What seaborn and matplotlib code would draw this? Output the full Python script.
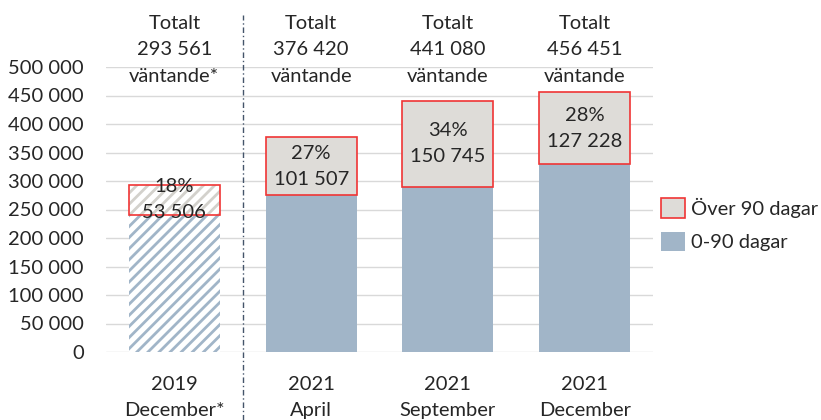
import matplotlib
matplotlib.use("Agg")
import matplotlib.pyplot as plt
import matplotlib.transforms as mtransforms
from matplotlib.patches import Patch, Rectangle
import seaborn as sns

categories = ["2019\nDecember*", "2021\nApril", "2021\nSeptember", "2021\nDecember"]
totals = [293561, 376420, 441080, 456451]
over_90 = [53506, 101507, 150745, 127228]
under_90 = [t - o for t, o in zip(totals, over_90)]
pct_labels = ["18%", "27%", "34%", "28%"]
total_notes = ["väntande*", "väntande", "väntande", "väntande"]

blue = "#A1B5C8"
grey = "#DEDCD8"
hatch_grey = "#D3D1CC"
red = "#F03535"
FS = 14.5
LS = 1.65

sns.set_theme(style="white")
plt.rcParams["font.family"] = ["Lato", "DejaVu Sans"]
plt.rcParams["hatch.linewidth"] = 2.0

def fmt(v):
    return f"{v:,}".replace(",", " ")

fig = plt.figure(figsize=(8.21, 4.2), dpi=100)
ax = fig.add_axes([106 / 821, 1 - 352 / 420, 547 / 821, 285 / 420])

######## bottom part: 0-90 dagar ########
sns.barplot(x=categories, y=under_90, color=blue, width=0.667,
            linewidth=0, saturation=1, ax=ax)
first = ax.patches[0]
first.set_facecolor("white")
first.set_edgecolor(blue)
first.set_hatch("///")

######## top part: over 90 dagar ########
xs = list(range(len(categories)))
ax.bar(xs[1:], over_90[1:], bottom=under_90[1:], width=0.667,
       color=grey, edgecolor=red, linewidth=1.2)
ax.bar(xs[0], over_90[0], bottom=under_90[0], width=0.667,
       facecolor="white", edgecolor=hatch_grey, hatch="///", linewidth=0)
ax.add_patch(Rectangle((xs[0] - 0.3335, under_90[0]), 0.667, over_90[0],
                       fill=False, edgecolor=red, linewidth=1.2))

for i in xs:
    ax.text(i, under_90[i] + over_90[i] / 2, pct_labels[i] + "\n" + fmt(over_90[i]),
            ha="center", va="center", fontsize=FS, linespacing=LS)

trans = mtransforms.blended_transform_factory(ax.transData, ax.transAxes)
for i in xs:
    ax.text(i, 1.06, "Totalt\n" + fmt(totals[i]) + "\n" + total_notes[i],
            transform=trans, ha="center", va="center", fontsize=FS,
            linespacing=LS, clip_on=False)

# separator between 2019 and 2021
ax.plot([0.5, 0.5], [-0.24, 1.182], transform=trans, color="#44546A",
        linestyle=(0, (4, 2, 1, 2)), linewidth=1, clip_on=False)

ax.set_xlim(-0.5, 3.5)
ax.set_ylim(0, 500000)
yt = list(range(0, 500001, 50000))
ax.set_yticks(yt)
ax.set_yticklabels([fmt(v) for v in yt])
ax.yaxis.grid(True, color="#D9D9D9", linewidth=1)
ax.set_axisbelow(True)
for s in ax.spines.values():
    s.set_visible(False)
ax.tick_params(axis="y", length=0, pad=16, labelsize=FS)
ax.tick_params(axis="x", length=0, pad=17, labelsize=FS)
for lab in ax.get_xticklabels():
    lab.set_linespacing(LS)

handles = [Patch(facecolor=grey, edgecolor=red, linewidth=1.2),
           Patch(facecolor=blue, edgecolor="none")]
fig.legend(handles, ["Över 90 dagar", "0-90 dagar"], loc="center left",
           bbox_to_anchor=(661 / 821, 1 - 224.5 / 420), frameon=False,
           fontsize=FS, handlelength=1.2, handleheight=1.1,
           handletextpad=0.3, labelspacing=0.7, borderpad=0, borderaxespad=0)

fig.savefig("out.png", dpi=100)
